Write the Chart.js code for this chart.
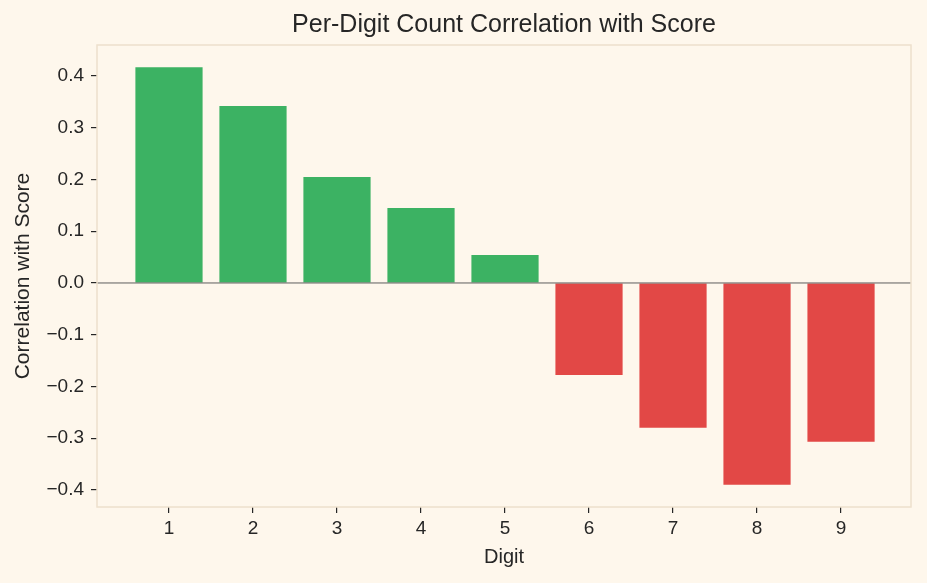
<!DOCTYPE html>
<html>
<head>
<meta charset="utf-8">
<script src="https://cdn.jsdelivr.net/npm/chart.js@4"></script>
<style>
  html, body { margin: 0; padding: 0; background: #fef7ec; }
  #wrap { width: 927px; height: 583px; }
</style>
</head>
<body>
<div id="wrap"><canvas id="chart1"></canvas></div>
<script>
// values
const digits = [1, 2, 3, 4, 5, 6, 7, 8, 9];
const correlations = [0.417, 0.342, 0.205, 0.145, 0.054, -0.178, -0.280, -0.390, -0.307];
const yTicks = [-0.4, -0.3, -0.2, -0.1, 0.0, 0.1, 0.2, 0.3, 0.4];
const chartTitle = 'Per-Digit Count Correlation with Score';

const GREEN = '#3cb263';
const RED = '#e24846';
const FRAME = '#ede0cc';
const TEXT = '#262626';
const FONT = 'Liberation Sans, Arial, sans-serif';

// frame around plot area, zero line, and title centred over the axes
const framePlugin = {
  id: 'frame',
  afterDatasetsDraw(chart) {
    const { ctx, chartArea: a, scales } = chart;
    ctx.save();
    const y0 = scales.y.getPixelForValue(0);
    ctx.strokeStyle = '#5e5e5e';
    ctx.lineWidth = 1;
    ctx.beginPath();
    ctx.moveTo(a.left, y0);
    ctx.lineTo(a.right, y0);
    ctx.stroke();
    ctx.strokeStyle = FRAME;
    ctx.lineWidth = 1.5;
    ctx.strokeRect(a.left, a.top, a.right - a.left, a.bottom - a.top);

    ctx.fillStyle = TEXT;
    ctx.font = '25px ' + FONT;
    ctx.textAlign = 'center';
    ctx.textBaseline = 'middle';
    ctx.fillText(chartTitle, (a.left + a.right) / 2, 25);
    ctx.restore();
  }
};

function makeChart() {
  const ctx = document.getElementById('chart1');
  new Chart(ctx, {
    type: 'bar',
    data: {
      datasets: [{
        data: digits.map((d, i) => ({ x: d, y: correlations[i] })),
        backgroundColor: correlations.map(v => v >= 0 ? GREEN : RED),
        borderWidth: 0,
        barPercentage: 0.8,
        categoryPercentage: 1.0
      }]
    },
    options: {
      responsive: true,
      maintainAspectRatio: false,
      animation: false,
      layout: { padding: { left: 0, right: 16, top: 45, bottom: 14 } },
      plugins: {
        legend: { display: false },
        tooltip: { enabled: false },
        title: { display: false }
      },
      scales: {
        x: {
          type: 'linear',
          min: 0.143,
          max: 9.833,
          offset: false,
          afterBuildTicks: s => { s.ticks = digits.map(v => ({ value: v })); },
          afterFit: s => { s.height = 62; },
          grid: { display: true, offset: false, drawOnChartArea: false, drawTicks: true, tickLength: 6, color: TEXT, lineWidth: 1.2 },
          border: { display: false },
          ticks: { color: TEXT, padding: 4, font: { family: FONT, size: 19 } },
          title: { display: true, text: 'Digit', color: TEXT, padding: { top: 4, bottom: 0 }, font: { family: FONT, size: 20 } }
        },
        y: {
          min: -0.433,
          max: 0.46,
          afterBuildTicks: s => { s.ticks = yTicks.map(v => ({ value: v })); },
          afterFit: s => { s.width = 97; },
          grid: { display: true, drawOnChartArea: false, drawTicks: true, tickLength: 6, color: TEXT, lineWidth: 1.2 },
          border: { display: false },
          ticks: {
            color: TEXT, padding: 7,
            font: { family: FONT, size: 19 },
            callback: v => (v < 0 ? '\u2212' : '') + Math.abs(v).toFixed(1)
          },
          title: { display: true, text: 'Correlation with Score', color: TEXT, padding: { top: 11, bottom: 0 }, font: { family: FONT, size: 21 } }
        }
      }
    },
    plugins: [framePlugin]
  });
}

document.addEventListener('DOMContentLoaded', makeChart);
</script>
</body>
</html>
